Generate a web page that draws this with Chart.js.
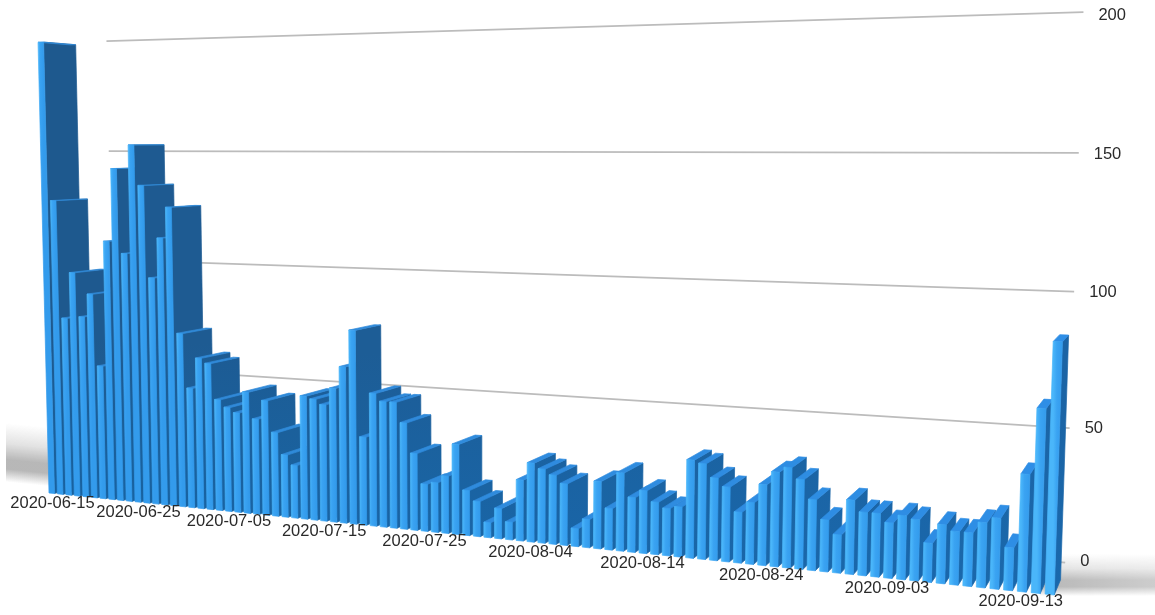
<!DOCTYPE html>
<html>
<head>
<meta charset="utf-8">
<script src="https://cdn.jsdelivr.net/npm/chart.js@4/dist/chart.umd.min.js"></script>
<style>
  html, body { margin: 0; padding: 0; background: #fff; }
  #wrap { width: 1155px; height: 615px; }
</style>
</head>
<body>
<div id="wrap"><canvas id="chart" width="1155" height="615"></canvas></div>
<script>
// Daily counts, 2020-06-15 onward
const startDate = '2020-06-15';
const dailyCounts = [
  197, 129, 78, 98, 79, 89, 58, 112, 143, 107,
  153, 136, 97, 114, 127, 74, 51, 64, 62, 47,
  44, 42, 51, 40, 48, 35, 26, 22, 51, 50,
  48, 55, 64, 79, 36, 54, 51, 51, 43, 31,
  19, 20, 23, 36, 18, 14, 6, 12, 7, 24,
  31, 29, 27, 24, 7, 11, 26, 16, 30, 21,
  24, 20, 18, 19, 37, 36, 31, 28, 19, 23,
  30, 35, 37, 33, 26, 19, 14, 27, 23, 23,
  20, 23, 22, 14, 21, 19, 19, 23, 25, 15,
  41, 64, 87
];
const dateTicks = ['2020-06-15', '2020-06-25', '2020-07-05', '2020-07-15', '2020-07-25',
                   '2020-08-04', '2020-08-14', '2020-08-24', '2020-09-03', '2020-09-13'];
const valueTicks = [0, 50, 100, 150, 200];

const categories = dailyCounts.map((_, i) => {
  const d = new Date(startDate + 'T00:00:00Z');
  d.setUTCDate(d.getUTCDate() + i);
  return d.toISOString().slice(0, 10);
});

// Camera: three vanishing points and the scene origin, in canvas pixels
const origin = [49, 493];
const vpRun = [-3380, 145];     // along the date axis
const vpRise = [480, 18200];    // along the value axis
const vpDepth = [1245, 140];    // into the scene
const kRun = -0.2251;           // full date axis
const kRise = -0.000126;        // per unit of value
const kDepth = 0.0267;          // one bar depth
const wallDepth = 2.2;
const barFill = 0.65;

function project(run, value, depth) {
  const a = kRun * run, b = kRise * value, c = kDepth * depth;
  const w = 1 + a + b + c;
  return [
    (origin[0] + a * vpRun[0] + b * vpRise[0] + c * vpDepth[0]) / w,
    (origin[1] + a * vpRun[1] + b * vpRise[1] + c * vpDepth[1]) / w
  ];
}

function fillQuad(ctx, pts, fill) {
  ctx.beginPath();
  pts.forEach((p, k) => k ? ctx.lineTo(p[0], p[1]) : ctx.moveTo(p[0], p[1]));
  ctx.closePath();
  ctx.fillStyle = fill;
  ctx.strokeStyle = fill;
  ctx.lineWidth = 0.7;
  ctx.lineJoin = 'round';
  ctx.fill();
  ctx.stroke();
}

function mix(a, b, t) {
  return 'rgb(' + a.map((v, i) => Math.round(v + (b[i] - v) * t)).join(',') + ')';
}

// A bar drawn as a prism, placed from the position the scales gave it
class PrismBar extends Chart.BarElement {
  draw(ctx) {
    const chart = Chart.getChart('chart');
    const xs = chart.scales.x, ys = chart.scales.y;
    const step = xs.width / categories.length;
    const last = categories.length - 1;
    const slot = (this.x - xs.left) / step - 0.5;
    const half = this.width / step / 2;
    const x0 = (slot - half + barFill / 2) / last;
    const x1 = (slot + half + barFill / 2) / last;
    const v = ys.getValueForPixel(this.y);
    const t = slot / last;

    const fb0 = project(x0, 0, 0), fb1 = project(x1, 0, 0);
    const ft0 = project(x0, v, 0), ft1 = project(x1, v, 0);
    const bb1 = project(x1, 0, 1), bt1 = project(x1, v, 1), bt0 = project(x0, v, 1);

    // sides are a deeper navy higher up, and a stronger blue near the floor
    const shade = ctx.createLinearGradient(0, fb1[1], 0, project(x1, 70, 0)[1]);
    shade.addColorStop(0, mix([24, 98, 160], [26, 104, 172], t));
    shade.addColorStop(1, mix([30, 89, 142], [27, 100, 165], t));
    fillQuad(ctx, [fb1, ft1, bt1, bb1], shade);
    fillQuad(ctx, [ft0, ft1, bt1, bt0], mix([48, 136, 212], [46, 142, 230], t));

    const grad = ctx.createLinearGradient(ft0[0], 0, ft1[0], 0);
    grad.addColorStop(0, '#4ab6fa');
    grad.addColorStop(0.4, '#3aa3f2');
    grad.addColorStop(1, '#339bec');
    fillQuad(ctx, [fb0, ft0, ft1, fb1], grad);
  }
}
PrismBar.id = 'prismBar';
PrismBar.defaults = Chart.BarElement.defaults;

class PrismBarController extends Chart.BarController {}
PrismBarController.id = 'prismBar';
PrismBarController.defaults = Object.assign({}, Chart.BarController.defaults, { dataElementType: 'prismBar' });

Chart.register(PrismBar, PrismBarController);

// One vertical sliver of the floor shadow
function shadowSliver(ctx, x, width, top, bottom, alpha) {
  const g = ctx.createLinearGradient(0, top, 0, bottom);
  g.addColorStop(0, 'rgba(125,125,125,0)');
  g.addColorStop(0.35, 'rgba(125,125,125,' + 0.22 * alpha + ')');
  g.addColorStop(0.62, 'rgba(125,125,125,' + 0.55 * alpha + ')');
  g.addColorStop(0.78, 'rgba(125,125,125,' + 0.55 * alpha + ')');
  g.addColorStop(1, 'rgba(125,125,125,0)');
  ctx.fillStyle = g;
  ctx.fillRect(x, top, width, bottom - top);
}

// Floor shadow, back wall rules and value labels sit under the bars
const backdrop = {
  id: 'backdrop',
  beforeDatasetsDraw(chart) {
    const ctx = chart.ctx;
    ctx.save();
    for (let x = 6; x < 120; x += 2) {
      shadowSliver(ctx, x, 2, 423 + (x - 6) * 0.1, 482 + (x - 6) * 0.1, 1);
    }
    for (let x = 1040; x < chart.width; x += 2) {
      const fade = 1 - (x - 1040) / 115 * 0.3;
      shadowSliver(ctx, x, 2, 554, 596, fade);
    }
    ctx.restore();

    ctx.save();
    ctx.strokeStyle = '#bcbcbc';
    ctx.lineWidth = 1.7;
    ctx.fillStyle = '#2a2a2a';
    ctx.font = '16.5px "Liberation Sans", Arial, sans-serif';
    ctx.textAlign = 'left';
    ctx.textBaseline = 'middle';
    valueTicks.forEach((tick) => {
      const a = project(0, tick, wallDepth), b = project(1.005, tick, wallDepth);
      // the zero rule shows only as a short stub past the last bar
      const from = tick === 0 ? project(0.985, tick, wallDepth) : a;
      ctx.beginPath();
      ctx.moveTo(from[0], from[1]);
      ctx.lineTo(b[0], b[1]);
      ctx.stroke();
      ctx.fillText(String(tick), b[0] + 15, b[1] + 1 + (tick - 100) / 50);
    });
    ctx.restore();
  },
  afterDatasetsDraw(chart) {
    const ctx = chart.ctx;
    const last = categories.length - 1;
    ctx.save();
    ctx.fillStyle = '#2a2a2a';
    ctx.font = '16.5px "Liberation Sans", Arial, sans-serif';
    ctx.textAlign = 'center';
    ctx.textBaseline = 'middle';
    dateTicks.forEach((label) => {
      const i = categories.indexOf(label);
      const p = project(i / last, 0, 0);
      ctx.fillText(label, p[0] + 3.5, p[1] + 10.5);
    });
    ctx.restore();
  }
};

new Chart(document.getElementById('chart'), {
  type: 'prismBar',
  data: {
    labels: categories,
    datasets: [{ data: dailyCounts, barPercentage: barFill, categoryPercentage: 1 }]
  },
  options: {
    responsive: false,
    animation: false,
    plugins: { legend: { display: false }, tooltip: { enabled: false } },
    scales: {
      x: { display: false, offset: true },
      y: { display: false, min: 0, max: 200, ticks: { stepSize: 50 } }
    }
  },
  plugins: [backdrop]
});
</script>
</body>
</html>
